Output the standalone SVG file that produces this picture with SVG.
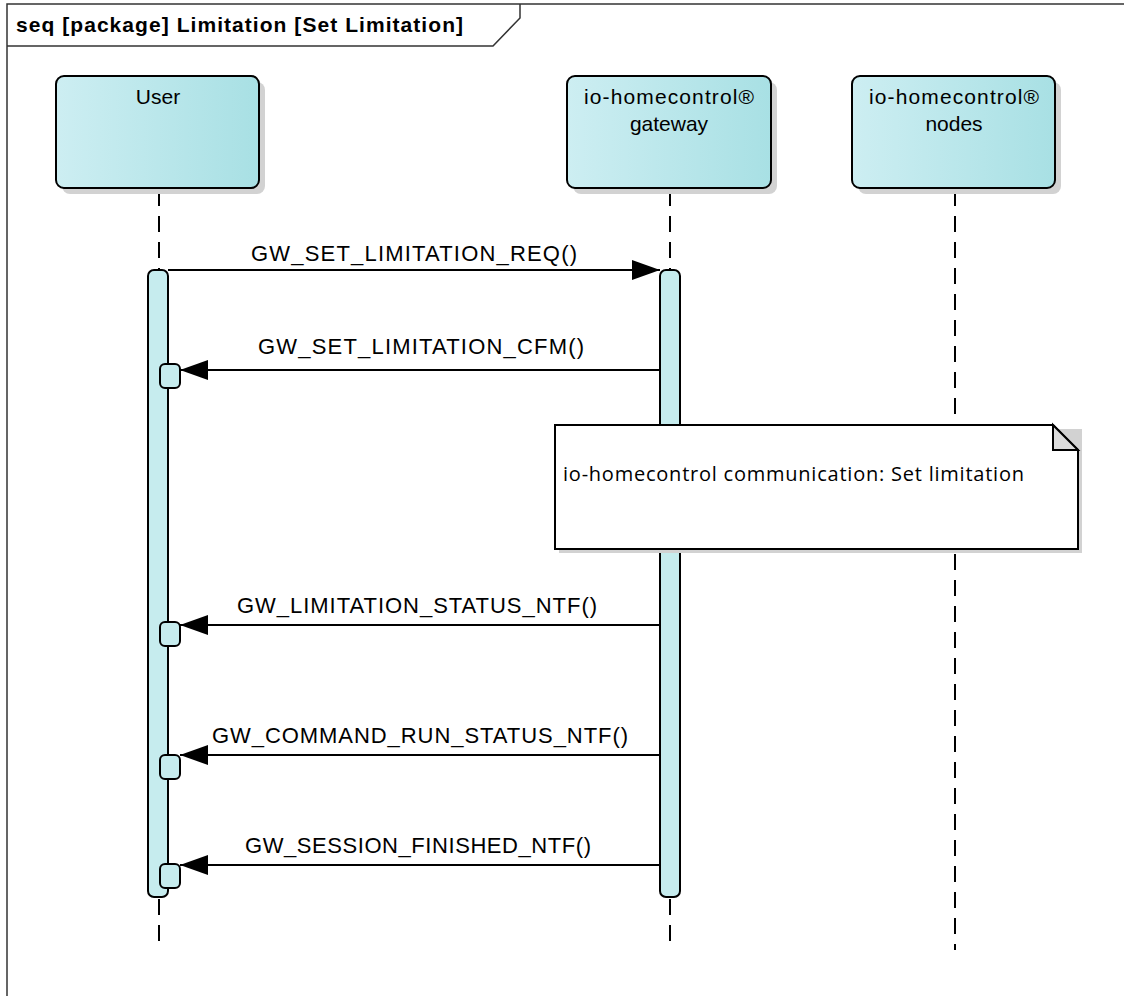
<svg xmlns="http://www.w3.org/2000/svg" width="1124" height="996" viewBox="0 0 1124 996">
<defs>
<linearGradient id="boxgrad" x1="0" y1="0" x2="1" y2="0">
<stop offset="0" stop-color="#cdeef2"/>
<stop offset="1" stop-color="#a8e0e4"/>
</linearGradient>
<marker id="arrow" markerWidth="28" markerHeight="20" refX="28" refY="10" orient="auto" markerUnits="userSpaceOnUse">
<path d="M0,0 L28,10 L0,20 Z" fill="#000"/>
</marker>
</defs>
<style>
.frame{fill:none;stroke:#333;stroke-width:1.5}
.box{fill:url(#boxgrad);stroke:#000;stroke-width:2}
.shadow{fill:#d2d2d2}
.lbl{font-family:"Liberation Sans",Arial,sans-serif;font-size:21px;fill:#000;text-anchor:middle}
.mlbl{font-family:"Liberation Sans",Arial,sans-serif;font-size:22px;fill:#000;text-anchor:middle}
.title{font-family:"Liberation Sans",Arial,sans-serif;font-size:21px;font-weight:bold;fill:#000}
.life{stroke:#000;stroke-width:2;stroke-dasharray:16 10;fill:none}
.act{fill:#c6ecee;stroke:#000;stroke-width:2}
.msg{stroke:#000;stroke-width:2;fill:none;marker-end:url(#arrow)}
.note{fill:#fff;stroke:#000;stroke-width:2}
.notetxt{font-family:"Open Sans","Noto Sans",sans-serif;font-size:20px;fill:#000}
</style>
<rect width="1124" height="996" fill="#fff"/>
<g id="frame">
<path class="frame" d="M7,996 L7,4 L1124,4"/>
<path class="frame" d="M7,46 L493,46 L520,18 L520,4"/>
<text class="title" x="16" y="32" textLength="447" lengthAdjust="spacing">seq [package] Limitation [Set Limitation]</text>
</g>
<g id="lifelines">
<line class="life" x1="159" y1="190" x2="159" y2="270"/>
<line class="life" x1="159" y1="899" x2="159" y2="950"/>
<line class="life" x1="670" y1="190" x2="670" y2="270"/>
<line class="life" x1="670" y1="899" x2="670" y2="950"/>
<line class="life" x1="955" y1="190" x2="955" y2="950"/>
</g>
<g id="user">
<rect class="shadow" x="62" y="82" width="203" height="112" rx="8"/>
<rect class="box" x="56" y="76" width="203" height="112" rx="8"/>
<text class="lbl" x="158" y="104">User</text>
</g>
<g id="gateway">
<rect class="shadow" x="573" y="82" width="204" height="112" rx="8"/>
<rect class="box" x="567" y="76" width="204" height="112" rx="8"/>
<text class="lbl" x="669" y="104" textLength="170" lengthAdjust="spacing">io-homecontrol®</text>
<text class="lbl" x="669" y="131">gateway</text>
</g>
<g id="nodes">
<rect class="shadow" x="858" y="82" width="203" height="112" rx="8"/>
<rect class="box" x="852" y="76" width="203" height="112" rx="8"/>
<text class="lbl" x="954" y="104" textLength="170" lengthAdjust="spacing">io-homecontrol®</text>
<text class="lbl" x="954" y="131">nodes</text>
</g>
<g id="activations">
<rect class="act" x="148" y="270" width="20" height="627" rx="6"/>
<rect class="act" x="660" y="270" width="20" height="627" rx="6"/>
<rect class="act" x="160" y="364" width="20" height="24" rx="5"/>
<rect class="act" x="160" y="622" width="20" height="24" rx="5"/>
<rect class="act" x="160" y="755" width="20" height="24" rx="5"/>
<rect class="act" x="160" y="864" width="20" height="24" rx="5"/>
</g>
<g id="connectors">
<line class="msg" x1="168" y1="270" x2="660" y2="270"/>
<line class="msg" x1="660" y1="370" x2="180" y2="370"/>
<line class="msg" x1="660" y1="625" x2="180" y2="625"/>
<line class="msg" x1="660" y1="755" x2="180" y2="755"/>
<line class="msg" x1="660" y1="865" x2="180" y2="865"/>
<text class="mlbl" x="414" y="261" textLength="326" lengthAdjust="spacing">GW_SET_LIMITATION_REQ()</text>
<text class="mlbl" x="421" y="354" textLength="326" lengthAdjust="spacing">GW_SET_LIMITATION_CFM()</text>
<text class="mlbl" x="417" y="613" textLength="360" lengthAdjust="spacing">GW_LIMITATION_STATUS_NTF()</text>
<text class="mlbl" x="420" y="743" textLength="416" lengthAdjust="spacing">GW_COMMAND_RUN_STATUS_NTF()</text>
<text class="mlbl" x="418" y="853" textLength="346" lengthAdjust="spacing">GW_SESSION_FINISHED_NTF()</text>
</g>
<g id="note">
<path fill="#d2d2d2" d="M559,429 L1082,429 L1082,553 L559,553 Z"/>
<path class="note" d="M555,425 L1053,425 L1078,450 L1078,549 L555,549 Z"/>
<path d="M1053,425 L1053,450 L1078,450 Z" fill="#dcdcdc" stroke="#000" stroke-width="2"/>
<text class="notetxt" x="563" y="481" textLength="461" lengthAdjust="spacing">io-homecontrol communication: Set limitation</text>
</g>
</svg>
